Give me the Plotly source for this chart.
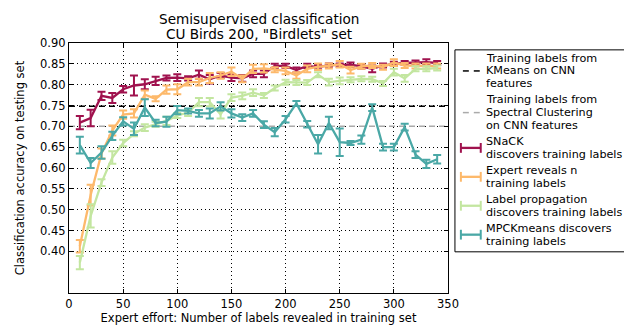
import plotly.graph_objects as go

labels_revealed = list(range(10, 350, 10))

snack_acc = [0.709, 0.720, 0.773, 0.768, 0.789, 0.798, 0.801, 0.809, 0.816, 0.817,
             0.815, 0.824, 0.813, 0.822, 0.817, 0.815, 0.826, 0.826, 0.845, 0.845,
             0.835, 0.845, 0.842, 0.847, 0.847, 0.848, 0.844, 0.838, 0.846, 0.850,
             0.852, 0.853, 0.854, 0.852]
snack_err = [0.016, 0.020, 0.010, 0.012, 0.008, 0.024, 0.012, 0.010, 0.006, 0.008,
             0.005, 0.010, 0.010, 0.006, 0.008, 0.008, 0.008, 0.008, 0.005, 0.005,
             0.006, 0.005, 0.005, 0.004, 0.004, 0.005, 0.005, 0.008, 0.005, 0.005,
             0.005, 0.005, 0.007, 0.005]

expert_acc = [0.412, 0.535, 0.635, 0.690, 0.728, 0.731, 0.776, 0.766, 0.788, 0.789,
              0.806, 0.806, 0.816, 0.822, 0.831, 0.814, 0.838, 0.839, 0.836, 0.833,
              0.822, 0.838, 0.843, 0.845, 0.849, 0.835, 0.844, 0.846, 0.842, 0.853,
              0.846, 0.845, 0.845, 0.845]
expert_err = [0.015, 0.025, 0.012, 0.012, 0.010, 0.010, 0.010, 0.006, 0.010, 0.012,
              0.008, 0.008, 0.012, 0.008, 0.010, 0.008, 0.010, 0.010, 0.006, 0.008,
              0.008, 0.008, 0.008, 0.006, 0.008, 0.008, 0.006, 0.006, 0.006, 0.008,
              0.006, 0.006, 0.006, 0.006]

labelprop_acc = [0.373, 0.485, 0.565, 0.625, 0.660, 0.682, 0.697, 0.705, 0.713, 0.726,
                 0.733, 0.758, 0.758, 0.729, 0.769, 0.773, 0.781, 0.774, 0.792, 0.806,
                 0.805, 0.805, 0.824, 0.806, 0.809, 0.812, 0.814, 0.813, 0.803, 0.830,
                 0.815, 0.838, 0.838, 0.840]
labelprop_err = [0.016, 0.028, 0.008, 0.015, 0.008, 0.006, 0.008, 0.006, 0.010, 0.006,
                 0.008, 0.010, 0.010, 0.010, 0.008, 0.008, 0.008, 0.006, 0.006, 0.006,
                 0.006, 0.006, 0.006, 0.008, 0.008, 0.006, 0.006, 0.006, 0.006, 0.008,
                 0.008, 0.006, 0.006, 0.006]

mpck_acc = [0.655, 0.612, 0.637, 0.677, 0.712, 0.694, 0.745, 0.708, 0.711, 0.739,
            0.737, 0.731, 0.731, 0.748, 0.731, 0.721, 0.731, 0.704, 0.686, 0.717,
            0.755, 0.705, 0.657, 0.708, 0.662, 0.660, 0.668, 0.745, 0.650, 0.650,
            0.698, 0.632, 0.610, 0.621]
mpck_err = [0.020, 0.012, 0.015, 0.010, 0.010, 0.015, 0.020, 0.008, 0.012, 0.010,
            0.006, 0.008, 0.012, 0.010, 0.010, 0.008, 0.008, 0.008, 0.010, 0.008,
            0.006, 0.008, 0.022, 0.015, 0.033, 0.005, 0.010, 0.008, 0.008, 0.008,
            0.008, 0.008, 0.010, 0.010]

kmeans_baseline = 0.748
spectral_baseline = 0.700
x_extent = [0, 350]

y_ticks = [0.40, 0.45, 0.50, 0.55, 0.60, 0.65, 0.70, 0.75, 0.80, 0.85, 0.90]
x_ticks = [0, 50, 100, 150, 200, 250, 300, 350]

title_lines = ["Semisupervised classification", "CU Birds 200, \"Birdlets\" set"]

legend_entries = [
    (["Training labels from", "KMeans on CNN", "features"], "dash", "black"),
    (["Training labels from", "Spectral Clustering", "on CNN features"], "dash", "#aaaaaa"),
    (["SNaCK", "discovers training labels"], "errbar", "#a0124e"),
    (["Expert reveals n", "training labels"], "errbar", "#fdb96b"),
    (["Label propagation", "discovers training labels"], "errbar", "#c3e6a0"),
    (["MPCKmeans discovers", "training labels"], "errbar", "#4aa8a6"),
]

FONT = "DejaVu Sans"
W, H = 632, 327
PL, PR, PT, PB = 58, 440, 35, 290  # plot area in pixels


def px_x(p):
    return (p - PL) / (PR - PL)


def px_y(p):
    return (PB - p) / (PB - PT)


fig = go.Figure()

fig.add_trace(go.Scatter(
    x=x_extent, y=[kmeans_baseline] * 2, mode="lines", showlegend=False,
    line=dict(color="black", width=1.5, dash="6px,4px")))
fig.add_trace(go.Scatter(
    x=x_extent, y=[spectral_baseline] * 2, mode="lines", showlegend=False,
    line=dict(color="#aaaaaa", width=1.5, dash="6px,4px")))

series = [
    (snack_acc, snack_err, legend_entries[2][2]),
    (expert_acc, expert_err, legend_entries[3][2]),
    (labelprop_acc, labelprop_err, legend_entries[4][2]),
    (mpck_acc, mpck_err, legend_entries[5][2]),
]
for acc, err, col in series:
    fig.add_trace(go.Scatter(
        x=labels_revealed, y=acc, mode="lines", showlegend=False,
        line=dict(color=col, width=2.3),
        error_y=dict(type="data", array=err, visible=True,
                     color=col, thickness=2, width=4)))

axis_common = dict(
    showline=True, linecolor="black", linewidth=1.2, mirror="ticks",
    ticks="inside", ticklen=4, tickcolor="black",
    showgrid=True, gridcolor="black", griddash="1px,3px", gridwidth=1,
    zeroline=False, tickfont=dict(family=FONT, size=11.5, color="black"),
)

fig.update_xaxes(range=[0, 350], tickvals=x_ticks,
                 title=dict(text="Expert effort: Number of labels revealed in training set",
                            font=dict(family=FONT, size=11.5, color="black"), standoff=4),
                 **axis_common)
fig.update_yaxes(range=[0.30, 0.90], tickvals=y_ticks, tickformat=".2f",
                 title=dict(text="Classification accuracy on testing set",
                            font=dict(family=FONT, size=11.5, color="black"), standoff=12),
                 **axis_common)

shapes = []
annotations = []

# title
for i, line in enumerate(title_lines):
    annotations.append(dict(
        text=line, xref="paper", yref="paper", x=0.5, y=px_y(10.5 + 15.5 * i),
        xanchor="center", yanchor="middle", showarrow=False,
        font=dict(family=FONT, size=13.6, color="black")))

# legend (manual, matplotlib-style)
shapes.append(dict(type="rect", xref="paper", yref="paper",
                   x0=px_x(447), x1=px_x(626), y0=px_y(248), y1=px_y(42),
                   line=dict(color="black", width=1), fillcolor="white", layer="above"))
line_h = 13.0
y_cur = 50.5
for lines, kind, col in legend_entries:
    n = len(lines)
    mid = y_cur + (n - 1) * line_h / 2
    for j, t in enumerate(lines):
        annotations.append(dict(
            text=t, xref="paper", yref="paper", x=px_x(478), y=px_y(y_cur + j * line_h),
            xanchor="left", yanchor="middle", showarrow=False,
            height=13, borderpad=0, borderwidth=0,
            font=dict(family=FONT, size=11.2, color="black")))
    if kind == "dash":
        for xa, xb in [(455, 461), (466, 472)]:
            shapes.append(dict(type="line", xref="paper", yref="paper",
                               x0=px_x(xa), x1=px_x(xb), y0=px_y(mid), y1=px_y(mid),
                               line=dict(color=col, width=1.5), layer="above"))
    else:
        shapes.append(dict(type="line", xref="paper", yref="paper",
                           x0=px_x(453), x1=px_x(473), y0=px_y(mid), y1=px_y(mid),
                           line=dict(color=col, width=2.3), layer="above"))
        for xc in (453, 473):
            shapes.append(dict(type="line", xref="paper", yref="paper",
                               x0=px_x(xc), x1=px_x(xc), y0=px_y(mid - 5), y1=px_y(mid + 5),
                               line=dict(color=col, width=2), layer="above"))
    y_cur += n * line_h + 3.5

fig.update_layout(
    width=W, height=H,
    margin=dict(l=PL, r=W - PR, t=PT, b=H - PB),
    paper_bgcolor="white", plot_bgcolor="white",
    font=dict(family=FONT, size=11, color="black"),
    showlegend=False,
    shapes=shapes, annotations=annotations,
)

fig.write_html("out.html")
